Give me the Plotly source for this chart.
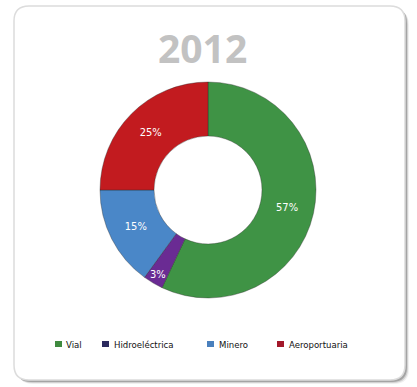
import plotly.graph_objects as go

# Inversión por sector, 2012 (porcentaje)
year_label = "2012"
sectors = ["Vial", "Hidroeléctrica", "Minero", "Aeroportuaria"]
shares = [57, 3, 15, 25]
slice_colors = ["#3f9345", "#6a2b93", "#4a87c8", "#c21b1f"]
key_colors = ["#3f8a3f", "#2b2a5e", "#4a80bd", "#a3182a"]

W, H = 417, 387
NARROW = "Liberation Sans Narrow, DejaVu Sans Condensed, sans-serif"


def px(x):
    return x / W


def py(y):
    return 1 - y / H


def rounded_rect(x0, y0, x1, y1, r):
    """SVG path (paper coords) for a rounded rectangle given in pixels."""
    pts = [
        f"M {px(x0 + r)},{py(y0)}",
        f"L {px(x1 - r)},{py(y0)}",
        f"Q {px(x1)},{py(y0)} {px(x1)},{py(y0 + r)}",
        f"L {px(x1)},{py(y1 - r)}",
        f"Q {px(x1)},{py(y1)} {px(x1 - r)},{py(y1)}",
        f"L {px(x0 + r)},{py(y1)}",
        f"Q {px(x0)},{py(y1)} {px(x0)},{py(y1 - r)}",
        f"L {px(x0)},{py(y0 + r)}",
        f"Q {px(x0)},{py(y0)} {px(x0 + r)},{py(y0)}",
        "Z",
    ]
    return " ".join(pts)


fig = go.Figure()

fig.add_trace(
    go.Pie(
        labels=sectors,
        values=shares,
        sort=False,
        direction="clockwise",
        rotation=0,
        hole=0.5,
        marker=dict(colors=slice_colors, line=dict(color="rgba(40,40,40,0.45)", width=0.8)),
        texttemplate="%{value}%",
        textposition="inside",
        insidetextorientation="horizontal",
        textfont=dict(family=NARROW, size=11, color="white"),
        domain=dict(x=[px(100), px(316)], y=[py(298), py(82)]),
        showlegend=False,
        hoverinfo="label+percent",
    )
)

shapes = []
# card shadow (soft, offset to the lower right)
for off, col in [(4, "rgba(0,0,0,0.06)"), (3, "rgba(0,0,0,0.12)"), (2, "rgba(0,0,0,0.22)")]:
    shapes.append(dict(type="path", xref="paper", yref="paper", layer="below",
                       path=rounded_rect(14 + off, 6 + off, 405 + off, 380 + off, 15),
                       fillcolor=col, line=dict(width=0)))
# white card
shapes.append(dict(type="path", xref="paper", yref="paper", layer="below",
                   path=rounded_rect(14, 6, 405, 380, 15),
                   fillcolor="white", line=dict(color="#dcdcdc", width=1.5)))

# legend keys and labels
key_x = [55, 102, 207, 277]
label_x = [64, 112, 217, 287]
key_y = 344
annotations = []
for name, col, kx, lx in zip(sectors, key_colors, key_x, label_x):
    shapes.append(dict(type="rect", xref="paper", yref="paper",
                       x0=px(kx), x1=px(kx + 7), y0=py(key_y + 3), y1=py(key_y - 3),
                       fillcolor=col, line=dict(width=0)))
    annotations.append(dict(text=name, xref="paper", yref="paper",
                            x=px(lx), y=py(key_y), xanchor="left", yanchor="middle",
                            showarrow=False,
                            font=dict(family=NARROW, size=9.5, color="#111111")))

annotations.append(dict(text=f"<b>{year_label}</b>", xref="paper", yref="paper",
                        x=px(202), y=py(47), xanchor="center", yanchor="middle",
                        showarrow=False,
                        font=dict(family="Open Sans, DejaVu Sans, sans-serif",
                                  size=39, color="#c2c2c2")))

fig.update_layout(
    width=W,
    height=H,
    margin=dict(l=0, r=0, t=0, b=0),
    paper_bgcolor="white",
    plot_bgcolor="white",
    shapes=shapes,
    annotations=annotations,
    uniformtext=dict(minsize=11, mode="show"),
)

fig.write_html("out.html")
